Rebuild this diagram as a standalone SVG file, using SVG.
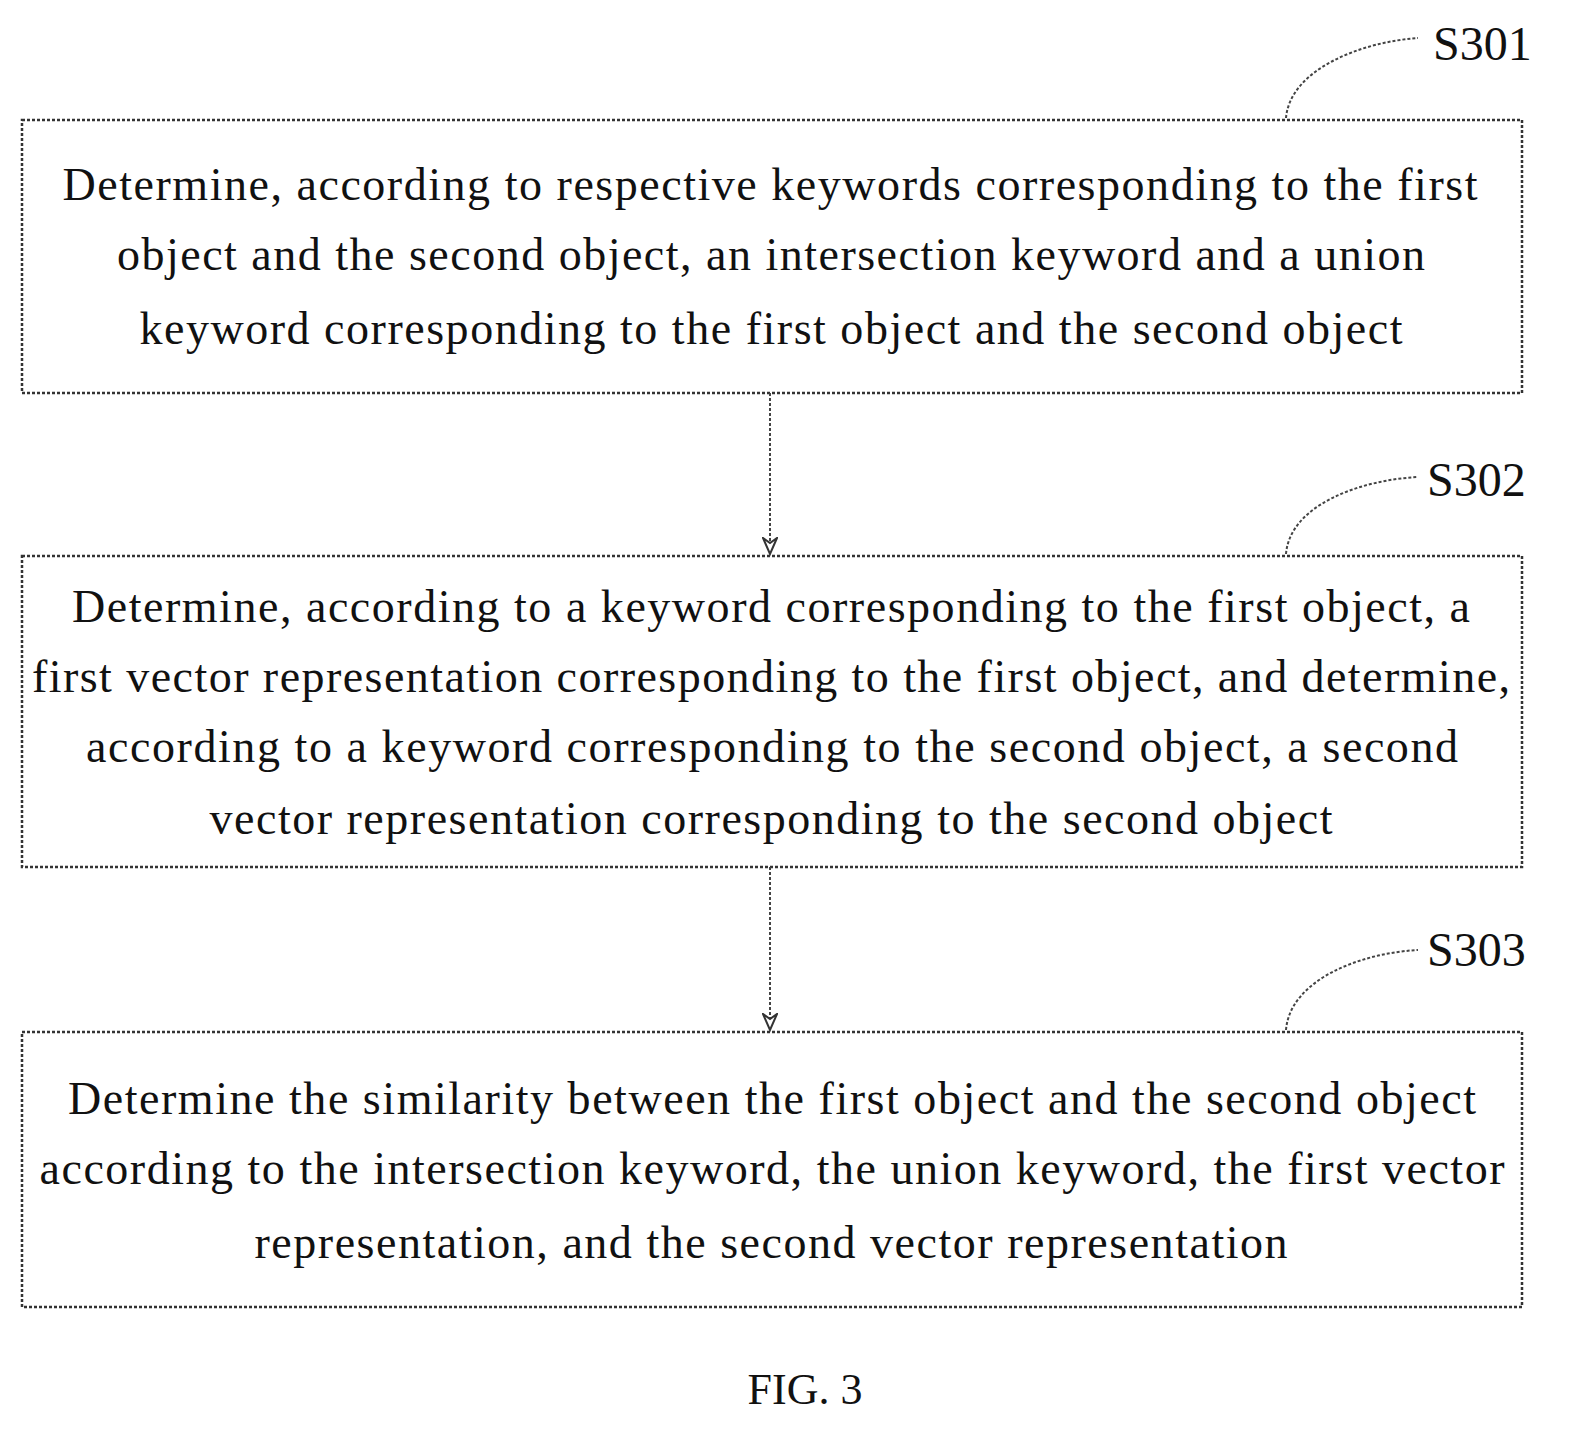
<svg xmlns="http://www.w3.org/2000/svg" width="1579" height="1436" viewBox="0 0 1579 1436">
<style>
.box{fill:none;stroke:#333;stroke-width:2.5;stroke-dasharray:3,2}
.t{font-family:"Liberation Serif",serif;font-size:46px;fill:#111;text-anchor:middle}
.lb{font-family:"Liberation Serif",serif;font-size:48px;fill:#111}
.ln{fill:none;stroke:#444;stroke-width:2;stroke-dasharray:3,2}
</style>
<defs><marker id="a" markerWidth="20" markerHeight="16" refX="17" refY="8" orient="auto" markerUnits="userSpaceOnUse"><path d="M1,1 L17,8 L1,15 L6,8 Z" fill="#fff" stroke="#333" stroke-width="2"/></marker></defs>
<rect width="1579" height="1436" fill="#fff"/>
<g id="n1"><rect class="box" x="22" y="120" width="1500" height="273"/>
<text class="t" x="770" y="200" textLength="1415" lengthAdjust="spacing">Determine, according to respective keywords corresponding to the first</text>
<text class="t" x="771" y="270" textLength="1308" lengthAdjust="spacing">object and the second object, an intersection keyword and a union</text>
<text class="t" x="771" y="344" textLength="1263" lengthAdjust="spacing">keyword corresponding to the first object and the second object</text></g>
<g id="n2"><rect class="box" x="22" y="556" width="1500" height="311"/>
<text class="t" x="771" y="622" textLength="1398" lengthAdjust="spacing">Determine, according to a keyword corresponding to the first object, a</text>
<text class="t" x="771" y="692" textLength="1478" lengthAdjust="spacing">first vector representation corresponding to the first object, and determine,</text>
<text class="t" x="772" y="762" textLength="1372" lengthAdjust="spacing">according to a keyword corresponding to the second object, a second</text>
<text class="t" x="771" y="834" textLength="1123" lengthAdjust="spacing">vector representation corresponding to the second object</text></g>
<g id="n3"><rect class="box" x="22" y="1032" width="1500" height="275"/>
<text class="t" x="772" y="1114" textLength="1408" lengthAdjust="spacing">Determine the similarity between the first object and the second object</text>
<text class="t" x="772" y="1184" textLength="1465" lengthAdjust="spacing">according to the intersection keyword, the union keyword, the first vector</text>
<text class="t" x="771" y="1258" textLength="1033" lengthAdjust="spacing">representation, and the second vector representation</text></g>
<g id="labels">
<text class="lb" x="1433" y="60">S301</text>
<text class="lb" x="1427" y="496">S302</text>
<text class="lb" x="1427" y="966">S303</text>
<text class="lb" x="805" y="1404" text-anchor="middle" style="font-size:44px">FIG. 3</text></g>
<g id="connectors">
<path class="ln" d="M1286,118 C1290,70 1360,42 1418,38"/>
<path class="ln" d="M1286,554 C1290,505 1360,480 1418,477"/>
<path class="ln" d="M1286,1030 C1290,980 1360,953 1418,950"/>
<line class="ln" x1="770" y1="393" x2="770" y2="554"  marker-end="url(#a)"/>
<line class="ln" x1="770" y1="867" x2="770" y2="1030" marker-end="url(#a)"/>
</g>
</svg>
